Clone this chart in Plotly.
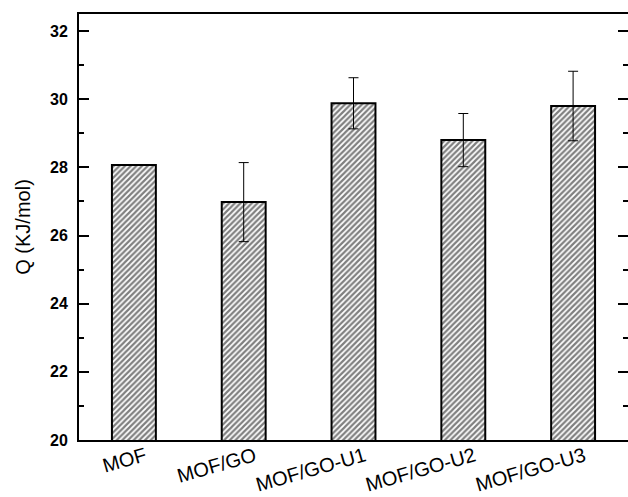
import plotly.graph_objects as go

categories = ["MOF", "MOF/GO", "MOF/GO-U1", "MOF/GO-U2", "MOF/GO-U3"]
q_values = [28.07, 26.98, 29.88, 28.8, 29.8]
q_errors = [0.0, 1.16, 0.75, 0.78, 1.02]
y_ticks = [20, 22, 24, 26, 28, 30, 32]

fig = go.Figure()
fig.add_trace(go.Bar(
    x=categories,
    y=q_values,
    width=0.4,
    marker=dict(
        color="white",
        line=dict(color="black", width=2),
        pattern=dict(shape="/", size=4, solidity=0.55, fgcolor="black", bgcolor="white"),
    ),
    error_y=dict(type="data", array=q_errors, visible=True, color="black", thickness=1, width=5),
))

fig.update_layout(
    width=628, height=497,
    margin=dict(l=79, r=0, t=14, b=57),
    plot_bgcolor="white", paper_bgcolor="white",
    showlegend=False,
    font=dict(family="Arial, Liberation Sans, sans-serif", color="black"),
)
fig.update_xaxes(
    range=[-0.5, 4.5],
    showline=True, linecolor="black", linewidth=2, mirror=True,
    ticks="", showgrid=False,
    tickangle=-16,
    tickfont=dict(size=20),
    ticklabelshift=11,
    ticklabelstandoff=-5,
    automargin=False,
)
fig.update_yaxes(
    range=[20, 32.5],
    tickvals=y_ticks,
    showline=True, linecolor="black", linewidth=2, mirror="ticks",
    ticks="inside", ticklen=10, tickwidth=2, tickcolor="black",
    minor=dict(dtick=1, ticks="inside", ticklen=5, tickwidth=2, tickcolor="black"),
    showgrid=False, zeroline=False,
    tickfont=dict(size=16, weight="bold"),
    ticklabelstandoff=6,
    title=dict(text="Q (KJ/mol)", font=dict(size=20), standoff=14),
    automargin=False,
)

fig.write_html(
    "out.html",
    config={"displayModeBar": False},
    post_script="document.body.style.margin='0';document.body.style.overflow='hidden';",
)
